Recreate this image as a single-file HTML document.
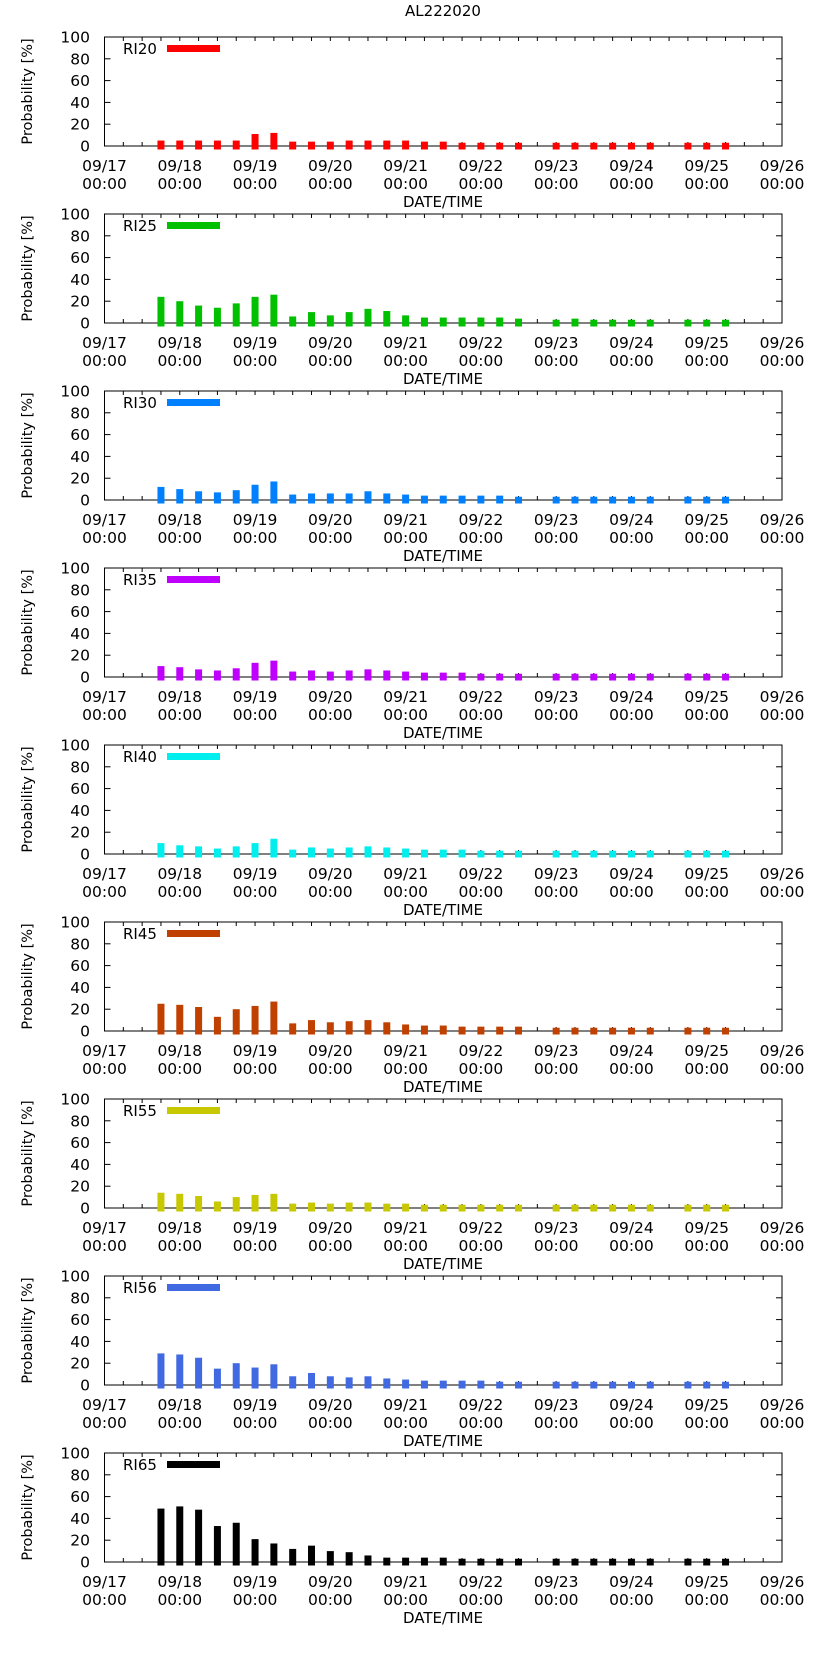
<!DOCTYPE html>
<html><head><meta charset="utf-8"><style>
html,body{margin:0;padding:0;background:#fff;}
svg{display:block;font-family:"DejaVu Sans","Liberation Sans",sans-serif;}
</style></head><body>
<svg id="c" width="822" height="1653" viewBox="0 0 822 1653">
<text x="443" y="16" text-anchor="middle" font-size="15">AL222020</text>
</svg>
<script>
const seriesNames = ["RI20","RI25","RI30","RI35","RI40","RI45","RI55","RI56","RI65"];
const seriesColors = ["#ff0000","#00c000","#0080ff","#c000ff","#00eeee","#c04000","#c8c800","#4169e1","#000000"];
// bar times: days after 09/17 00:00
const barTimes = [0.75,1,1.25,1.5,1.75,2,2.25,2.5,2.75,3,3.25,3.5,3.75,4,4.25,4.5,4.75,5,5.25,5.5,6,6.25,6.5,6.75,7,7.25,7.75,8,8.25];
const ri20 = [5,5,5,5,5,11,12,4,4,4,5,5,5,5,4,4,3,3,3,3,3,3,3,3,3,3,3,3,3];
const ri25 = [24,20,16,14,18,24,26,6,10,7,10,13,11,7,5,5,5,5,5,4,3,4,3,3,3,3,3,3,3];
const ri30 = [12,10,8,7,9,14,17,5,6,6,6,8,6,5,4,4,4,4,4,3,3,3,3,3,3,3,3,3,3];
const ri35 = [10,9,7,6,8,13,15,5,6,5,6,7,6,5,4,4,4,3,3,3,3,3,3,3,3,3,3,3,3];
const ri40 = [10,8,7,5,7,10,14,4,6,5,6,7,6,5,4,4,4,3,3,3,3,3,3,3,3,3,3,3,3];
const ri45 = [25,24,22,13,20,23,27,7,10,8,9,10,8,6,5,5,4,4,4,4,3,3,3,3,3,3,3,3,3];
const ri55 = [14,13,11,6,10,12,13,4,5,4,5,5,4,4,3,3,3,3,3,3,3,3,3,3,3,3,3,3,3];
const ri56 = [29,28,25,15,20,16,19,8,11,8,7,8,6,5,4,4,4,4,3,3,3,3,3,3,3,3,3,3,3];
const ri65 = [49,51,48,33,36,21,17,12,15,10,9,6,4,4,4,4,3,3,3,3,3,3,3,3,3,3,3,3,3];
const allSeries = [ri20,ri25,ri30,ri35,ri40,ri45,ri55,ri56,ri65];
const xTickLabels = ["09/17","09/18","09/19","09/20","09/21","09/22","09/23","09/24","09/25","09/26"];
const yTickLabels = [0,20,40,60,80,100];

const NS="http://www.w3.org/2000/svg";
const svg=document.getElementById('c');
const L=104.5,R=782,PX=(R-L)/9;
function xs(d){return L+d*PX;}
function mk(tag,attrs,parent){const e=document.createElementNS(NS,tag);for(const k in attrs)e.setAttribute(k,attrs[k]);(parent||svg).appendChild(e);return e;}

for(let p=0;p<9;p++){
  const top=37+177*p, base=146+177*p;
  const ys=v=>base-(base-top)*v/100;
  const g=mk('g',{});
  
  
  // x ticks every 6h
  for(let t=0;t<=36;t++){
    const x=xs(t/4);
    mk('line',{x1:x,y1:base,x2:x,y2:base-4,stroke:'#000','stroke-width':1},g);
    mk('line',{x1:x,y1:top,x2:x,y2:top+4,stroke:'#000','stroke-width':1},g);
  }
  // frame
  const f=mk('rect',{x:L,y:top,width:R-L,height:base-top,fill:'none',stroke:'#000','stroke-width':1},g);
  
  
  // bars
  const vals=allSeries[p];
  for(let i=0;i<vals.length;i++){
    const x=xs(barTimes[i]);
    const y=ys(vals[i]);
    const r=mk('rect',{x:x-3.5,y:y,width:7,height:base+3.5-y,fill:seriesColors[p]},g);
    
    
  }
  // x labels
  for(let d=0;d<xTickLabels.length;d++){
    const t=mk('text',{x:xs(d),y:base+25,'text-anchor':'middle','font-size':'15.5'},g);
    t.textContent=xTickLabels[d];
    
    
    const t2=mk('text',{x:xs(d),y:base+43,'text-anchor':'middle','font-size':'15.5'},g);
    t2.textContent='00:00';
    
    
  }
  const xt=mk('text',{x:443,y:base+61,'text-anchor':'middle','font-size':'15'},g);
  xt.textContent='DATE/TIME';
  
  
  // y ticks
  for(const v of yTickLabels){
    const y=ys(v);
    mk('line',{x1:L,y1:y,x2:L+6,y2:y,stroke:'#000'},g);
    mk('line',{x1:R,y1:y,x2:R-6,y2:y,stroke:'#000'},g);
    const t=mk('text',{x:90,y:y+5.5,'text-anchor':'end','font-size':'15.5'},g);
    t.textContent=String(v);
    
    
  }
  const cy=(top+base)/2;
  const yt=mk('text',{x:0,y:0,'text-anchor':'middle','font-size':'14.5',transform:`translate(32,${cy}) rotate(-90)`},g);
  yt.textContent='Probability [%]';
  
  
  // legend
  const lt=mk('text',{x:123,y:top+17,'font-size':'15'},g);
  lt.textContent=seriesNames[p];
  
  
  const ll=mk('rect',{x:167,y:top+8,width:53,height:7,fill:seriesColors[p]},g);
  
  
}
</script>
</body></html>
